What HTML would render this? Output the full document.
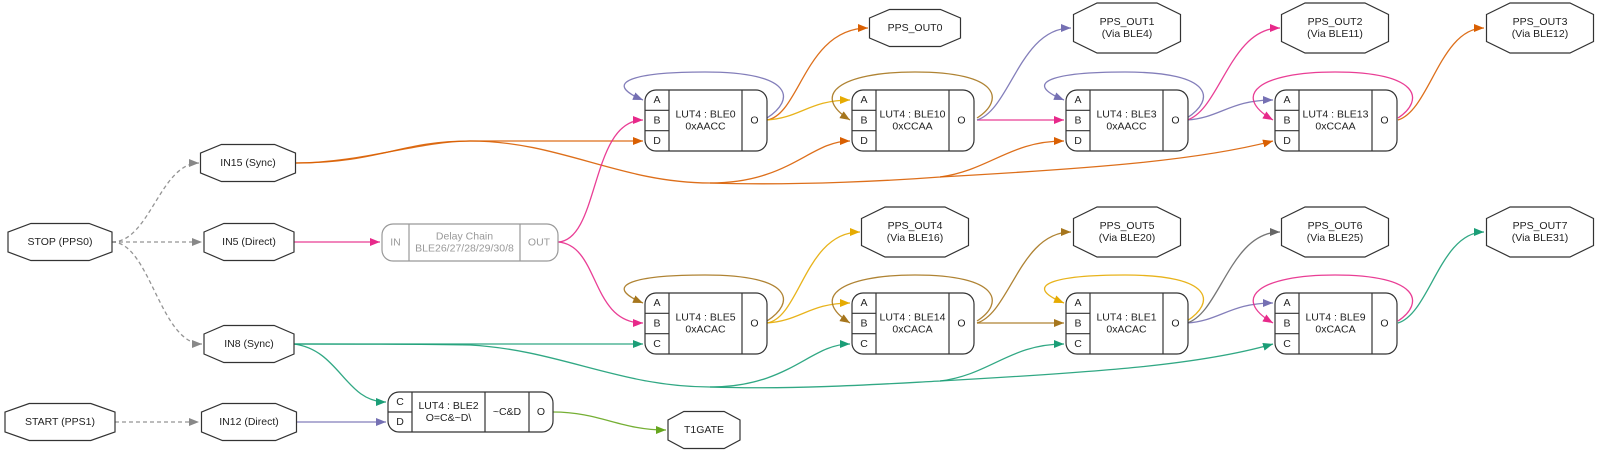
<!DOCTYPE html>
<html><head><meta charset="utf-8"><style>
html,body{margin:0;padding:0;background:#fff;width:1600px;height:452px;overflow:hidden}
svg{display:block}
text{font-family:"Liberation Sans",Arial,sans-serif;font-size:10.5px;fill:#222;text-anchor:middle;dominant-baseline:central}
.n{fill:#fff;stroke:#333;stroke-width:1.2}
.e{fill:none;stroke-width:1.3}
</style></head><body>
<svg id="s" width="1600" height="452" viewBox="0 0 1600 452" xmlns="http://www.w3.org/2000/svg">
<defs></defs>
<g id="edges"></g>
<g id="nodes"></g>
</svg>
<script>
const NS="http://www.w3.org/2000/svg";
const s=document.getElementById('s'),defs=s.querySelector('defs'),E=document.getElementById('edges'),N=document.getElementById('nodes');
function el(t,a,p,txt){const e=document.createElementNS(NS,t);for(const k in a)e.setAttribute(k,a[k]);if(txt!==undefined)e.textContent=txt;(p||N).appendChild(e);return e;}
const C={o:'#d95f02',p:'#e7298a',u:'#7570b3',g:'#e6ab02',b:'#a6761d',t:'#1b9e77',l:'#66a61e',k:'#666666',d:'#888888'};
for(const k in C){const m=el('marker',{id:'m'+k,markerWidth:11,markerHeight:8,refX:10,refY:4,orient:'auto',markerUnits:'userSpaceOnUse'},defs);el('path',{d:'M0,0 L10,4 L0,8 z',fill:C[k]},m);}
function edge(c,d,arrow=true,dash){const a={d:d,class:'e',stroke:C[c],'stroke-opacity':0.9};if(arrow)a['marker-end']='url(#m'+c+')';if(dash)a['stroke-dasharray']='4,3';el('path',a,E);}
function oct(cx,cy,w,h,lines){const x0=cx-w/2,x1=cx+w/2,y0=cy-h/2,y1=cy+h/2,dx=w*0.22,dy=h*0.27;
 el('polygon',{class:'n',points:[[x0,cy-dy],[x0+dx,y0],[x1-dx,y0],[x1,cy-dy],[x1,cy+dy],[x1-dx,y1],[x0+dx,y1],[x0,cy+dy]].map(p=>p.join(',')).join(' ')});
 const n=lines.length;lines.forEach((t,i)=>el('text',{x:cx,y:cy+(i-(n-1)/2)*12},N,t));}
function rec(x0,x1,y0,y1,cols,grey){const st=grey?'#999':'#333';const tf=grey?'#999':'#222';
 el('rect',{x:x0,y:y0,width:x1-x0,height:y1-y0,rx:11,ry:11,fill:'#fff',stroke:st,'stroke-width':1.2});
 cols.forEach(c=>{ if(c.x0>x0) el('line',{x1:c.x0,y1:y0,x2:c.x0,y2:y1,stroke:st,'stroke-width':1.2});
  const n=c.rows.length;const h=(y1-y0)/n;
  c.rows.forEach((r,i)=>{ if(i>0&&c.sep) el('line',{x1:c.x0,y1:y0+i*h,x2:c.x1,y2:y0+i*h,stroke:st,'stroke-width':1.2});
   if(c.sep) el('text',{x:(c.x0+c.x1)/2,y:y0+h*i+h/2,style:'fill:'+tf},N,r);
  });
  if(!c.sep){const m=c.rows.length;c.rows.forEach((r,i)=>el('text',{x:(c.x0+c.x1)/2,y:(y0+y1)/2+(i-(m-1)/2)*12,style:'fill:'+tf},N,r));}
 });}
function lut(x0,y0,name,val,ports){const y1=y0+61,a=x0+24,b=x0+97,x1=x0+122;
 rec(x0,x1,y0,y1,[{x0:x0,x1:a,rows:ports,sep:true},{x0:a,x1:b,rows:['LUT4 : '+name,val]},{x0:b,x1:x1,rows:['O']}]);}

// dashed
edge('d','M112,242 C150,242 160,163 199,163',true,true);
edge('d','M112,242 L202,242',true,true);
edge('d','M112,242 C150,242 160,344 202,344',true,true);
edge('d','M115,422 L199,422',true,true);
// orange top
edge('o','M296,163 C380,163 400,141 470,141 L643,141');
edge('o','M296,163 C360,163 420,141 470,141 C560,141 620,183 710,183 C790,183 810,141 850,141');
edge('o','M710,183 C800,186 900,180 940,177 C990,170 1010,141 1064,141');
edge('o','M940,177 C1100,168 1200,160 1273,141');
// pink
edge('p','M294,242 L380,242');
edge('p','M558,242 C600,240 590,120 643,120');
edge('p','M558,242 C600,245 590,323 643,323');
// top row
const T=120,B=323;
function row(y,xs,loops,links){}
// BLE0
edge('u','M767,118 C795,100 795,72 705,72 C635,72 600,82 643,100');
edge('o','M767,120 C800,115 805,28 868,28');
edge('g','M767,120 C800,118 810,100 850,100');
// BLE10
edge('b','M977,118 C1005,100 1000,72 915,72 C840,72 810,95 850,120');
edge('p','M977,120 L1064,120');
edge('u','M977,120 C1010,110 1020,28 1071,28');
// BLE3
edge('u','M1187,118 C1215,100 1215,72 1125,72 C1055,72 1020,82 1064,100');
edge('u','M1187,120 C1220,118 1230,100 1273,100');
edge('p','M1187,120 C1220,110 1230,28 1280,28');
// BLE13
edge('p','M1398,118 C1425,100 1420,72 1335,72 C1260,72 1230,95 1273,120');
edge('o','M1398,120 C1430,110 1440,28 1484,28');
// teal bottom
edge('t','M294,344 L643,344');
edge('t','M294,344 C380,344 420,344 470,345 C560,350 620,387 710,387 C790,387 810,344 850,344');
edge('t','M710,387 C800,390 900,383 940,381 C990,375 1010,344 1064,344');
edge('t','M940,381 C1100,372 1200,365 1273,344');
edge('t','M294,344 C340,350 345,402 386,402');
edge('u','M296,422 L386,422');
edge('l','M553,412 C600,412 620,430 666,430');
// BLE5
edge('b','M767,321 C795,303 795,275 705,275 C635,275 600,285 643,303');
edge('g','M767,323 C800,318 805,232 860,232');
edge('g','M767,323 C800,321 810,303 850,303');
// BLE14
edge('b','M977,321 C1005,303 1000,275 915,275 C840,275 810,298 850,323');
edge('b','M977,323 L1064,323');
edge('b','M977,323 C1010,313 1020,232 1071,232');
// BLE1
edge('g','M1187,321 C1215,303 1215,275 1125,275 C1055,275 1020,285 1064,303');
edge('u','M1187,323 C1220,321 1230,303 1273,303');
edge('k','M1187,323 C1220,313 1230,232 1280,232');
// BLE9
edge('p','M1398,321 C1425,303 1420,275 1335,275 C1260,275 1230,298 1273,323');
edge('t','M1398,323 C1430,313 1440,232 1484,232');

// nodes
oct(60,242,104,37,['STOP (PPS0)']);
oct(60,422,110,37,['START (PPS1)']);
oct(248,163,95,37,['IN15  (Sync)']);
oct(249,242,90,37,['IN5 (Direct)']);
oct(249,344,90,37,['IN8  (Sync)']);
oct(249,422,95,37,['IN12 (Direct)']);
oct(704,430,72,37,['T1GATE']);
oct(915,28,91,37,['PPS_OUT0']);
oct(1127,28,107,50,['PPS_OUT1','(Via BLE4)']);
oct(1335,28,107,50,['PPS_OUT2','(Via BLE11)']);
oct(1540,28,107,50,['PPS_OUT3','(Via BLE12)']);
oct(915,232,107,50,['PPS_OUT4','(Via BLE16)']);
oct(1127,232,107,50,['PPS_OUT5','(Via BLE20)']);
oct(1335,232,107,50,['PPS_OUT6','(Via BLE25)']);
oct(1540,232,107,50,['PPS_OUT7','(Via BLE31)']);
rec(382,558,224,261,[{x0:382,x1:409,rows:['IN']},{x0:409,x1:520,rows:['Delay Chain','BLE26/27/28/29/30/8']},{x0:520,x1:558,rows:['OUT']}],true);
rec(388,553,392,432,[{x0:388,x1:412,rows:['C','D'],sep:true},{x0:412,x1:485,rows:['LUT4 : BLE2','O=C&~D\\']},{x0:485,x1:529,rows:['~C&D']},{x0:529,x1:553,rows:['O']}]);
lut(645,90,'BLE0','0xAACC',['A','B','D']);
lut(852,90,'BLE10','0xCCAA',['A','B','D']);
lut(1066,90,'BLE3','0xAACC',['A','B','D']);
lut(1275,90,'BLE13','0xCCAA',['A','B','D']);
lut(645,293,'BLE5','0xACAC',['A','B','C']);
lut(852,293,'BLE14','0xCACA',['A','B','C']);
lut(1066,293,'BLE1','0xACAC',['A','B','C']);
lut(1275,293,'BLE9','0xCACA',['A','B','C']);
</script>
</body></html>
